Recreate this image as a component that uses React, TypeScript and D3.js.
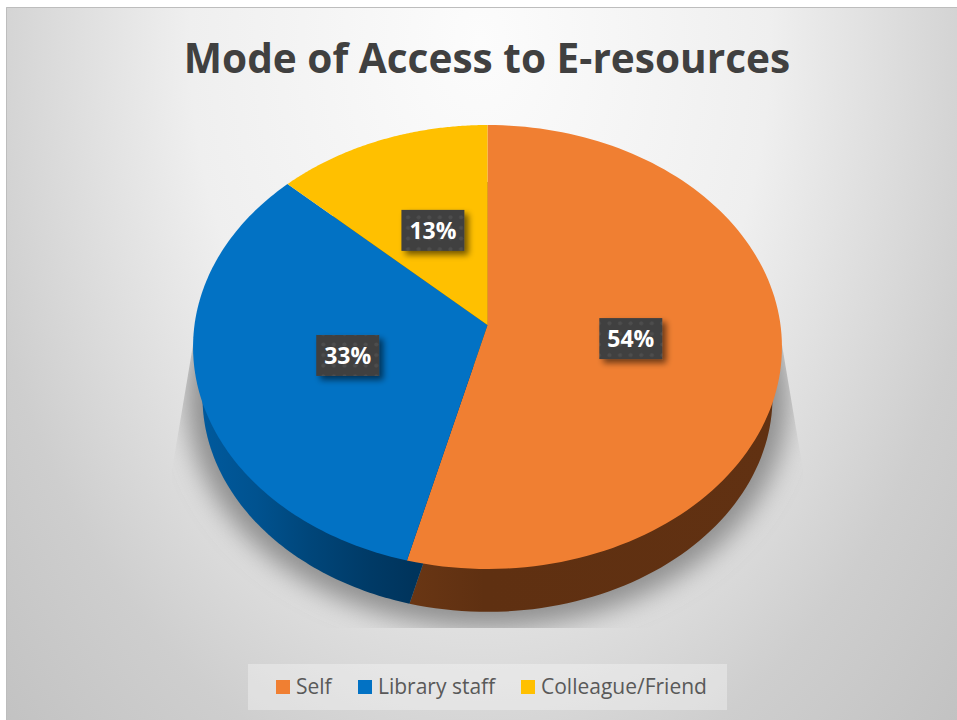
import React from "react";
import * as d3 from "d3";

const chartTitle = "Mode of Access to E-resources";
const categories = ["Self", "Library staff", "Colleague/Friend"];
const shares = [54, 33, 13];
const topColors = ["#f07f32", "#0272c4", "#ffc000"];

const W = 957;
const H = 720;

// Oblique view of the disc: a projective map of the unit circle.
const cx = 487.5;
const apexY = 325;
const a = 293;
const b = 219.8;
const tilt = 0.0991;
const lowerScale = 0.968;
const lowerApexY = 375.7;

type Pt = [number, number];

const project = (angle: number, t: number, lower: boolean): Pt => {
  const u = Math.sin(angle) * t;
  const v = Math.cos(angle) * t;
  const d = 1 + tilt * v;
  const s = lower ? lowerScale : 1;
  return [cx + (a * s * u) / d, (lower ? lowerApexY : apexY) - (b * s * v) / d];
};

const slices = d3.pie<number>().sort(null).value((d) => d)(shares);
const lineGen = d3.line<Pt>();

const wedgePath = (start: number, end: number, lower: boolean) => {
  const angles = d3.range(0, 121).map((i) => start + ((end - start) * i) / 120);
  const apex: Pt = [cx, lower ? lowerApexY : apexY];
  return lineGen([apex, ...angles.map((ang) => project(ang, 1, lower))]) + "Z";
};

const labelBoxW = 63;
const labelBoxH = 41;
const labelRadius = 0.49;

const legendItems = [
  { swatchX: 276, textX: 296 },
  { swatchX: 358, textX: 378 },
  { swatchX: 521, textX: 541 },
];

const font = "'Open Sans', 'DejaVu Sans', sans-serif";

export default function App() {
  return (
    <svg
      width={W}
      height={H}
      viewBox={`0 0 ${W} ${H}`}
      style={{ position: "fixed", left: 0, top: 0, display: "block" }}
    >
      <defs>
        <radialGradient
          id="panelFill"
          gradientUnits="userSpaceOnUse"
          cx={0}
          cy={0}
          r={1}
          gradientTransform="translate(480 40) scale(690 1020)"
        >
          <stop offset="0" stopColor="#fcfcfc" />
          <stop offset="0.42" stopColor="#efefef" />
          <stop offset="0.6" stopColor="#dddddd" />
          <stop offset="0.75" stopColor="#cecece" />
          <stop offset="1" stopColor="#c0c0c0" />
        </radialGradient>
        <linearGradient id="side0" gradientUnits="userSpaceOnUse" x1={410} x2={780} y1={0} y2={0}>
          <stop offset="0" stopColor="#693614" />
          <stop offset="0.2" stopColor="#5f3011" />
          <stop offset="1" stopColor="#613112" />
        </linearGradient>
        <linearGradient id="side1" gradientUnits="userSpaceOnUse" x1={205} x2={413} y1={0} y2={0}>
          <stop offset="0" stopColor="#00599c" />
          <stop offset="0.25" stopColor="#00528f" />
          <stop offset="0.5" stopColor="#00467a" />
          <stop offset="0.8" stopColor="#003a66" />
          <stop offset="1" stopColor="#00345c" />
        </linearGradient>
        <linearGradient id="side2" gradientUnits="userSpaceOnUse" x1={290} x2={487} y1={0} y2={0}>
          <stop offset="0" stopColor="#7f6000" />
          <stop offset="1" stopColor="#7f6000" />
        </linearGradient>
        <filter id="groundBlur" x="-20%" y="-20%" width="140%" height="140%">
          <feGaussianBlur stdDeviation="13" />
        </filter>
        <clipPath id="groundClip">
          <path d="M193,345 L172,470 L172,628 L803,628 L803,470 L782,345 Z" />
        </clipPath>
        <filter id="boxShadow" x="-30%" y="-30%" width="170%" height="170%">
          <feGaussianBlur in="SourceAlpha" stdDeviation="3" />
          <feOffset dx="4" dy="4" />
          <feComponentTransfer>
            <feFuncA type="linear" slope="0.55" />
          </feComponentTransfer>
          <feMerge>
            <feMergeNode />
            <feMergeNode in="SourceGraphic" />
          </feMerge>
        </filter>
        <pattern id="boxDots" width="10.6" height="10.6" patternUnits="userSpaceOnUse">
          <rect width="10.6" height="10.6" fill="#404040" />
          <circle cx="5.3" cy="5.3" r="2" fill="#4e4e4e" />
        </pattern>
      </defs>

      <rect x={0} y={0} width={W} height={H} fill="#ffffff" />
      <rect x={6} y={7} width={W - 6} height={H - 7} fill="url(#panelFill)" />
      <path d={`M6.5,${H} V7.5 H${W}`} fill="none" stroke="#bdbdbd" strokeWidth={1} />

      <text
        x={487}
        y={73}
        textAnchor="middle"
        fontFamily={font}
        fontWeight={700}
        fontSize={40.6}
        fill="#404040"
      >
        {chartTitle}
      </text>

      {/* soft ground shadow under the disc */}
      <g clipPath="url(#groundClip)">
        <g filter="url(#groundBlur)">
          <ellipse cx={cx} cy={398} rx={301} ry={230} fill="#868686" opacity={0.9} />
        </g>
      </g>

      {/* rim of the disc */}
      {slices.map((s, i) => (
        <path key={i} d={wedgePath(s.startAngle, s.endAngle, true)} fill={`url(#side${i})`} />
      ))}

      {/* top face */}
      {slices.map((s, i) => (
        <path key={i} d={wedgePath(s.startAngle, s.endAngle, false)} fill={topColors[i]} />
      ))}

      {slices.map((s, i) => {
        const [lx, ly] = project((s.startAngle + s.endAngle) / 2, labelRadius, false);
        return (
          <g key={i}>
            <rect
              x={lx - labelBoxW / 2}
              y={ly - labelBoxH / 2}
              width={labelBoxW}
              height={labelBoxH}
              fill="url(#boxDots)"
              filter="url(#boxShadow)"
            />
            <text
              x={lx}
              y={ly + 8.5}
              textAnchor="middle"
              fontFamily={font}
              fontWeight={700}
              fontSize={23}
              fill="#ffffff"
            >
              {`${shares[i]}%`}
            </text>
          </g>
        );
      })}

      <rect x={248} y={664} width={479} height={46} fill="#ffffff" opacity={0.32} />
      {categories.map((c, i) => (
        <g key={c}>
          <rect x={legendItems[i].swatchX} y={680} width={14} height={14} fill={topColors[i]} />
          <text
            x={legendItems[i].textX}
            y={694}
            fontFamily={font}
            fontSize={21}
            fill="#595959"
          >
            {c}
          </text>
        </g>
      ))}
    </svg>
  );
}
